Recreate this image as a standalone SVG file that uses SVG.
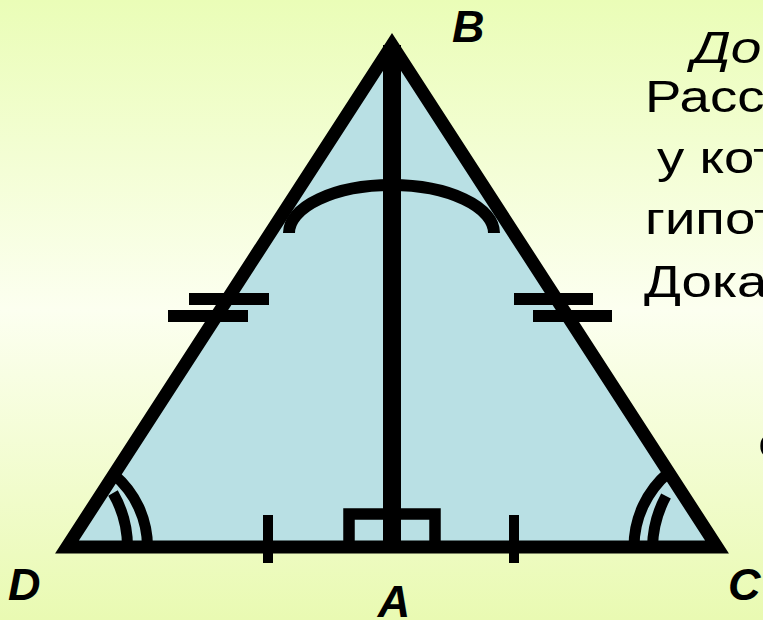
<svg xmlns="http://www.w3.org/2000/svg" width="763" height="620" viewBox="0 0 763 620">
<defs>
<linearGradient id="bg" x1="0" y1="0" x2="0" y2="1">
<stop offset="0" stop-color="#eafdb7"/>
<stop offset="0.5" stop-color="#fcfff0"/>
<stop offset="1" stop-color="#e9fab2"/>
</linearGradient>
<style>
.ln{fill:none;stroke:#000;stroke-linecap:butt}
.lbl{font-family:"Liberation Sans",Arial,sans-serif;font-weight:bold;font-style:italic;font-size:45px;fill:#000}
.txt{font-family:"Liberation Sans",Arial,sans-serif;font-size:44px;fill:#000}
</style>
</defs>
<rect width="763" height="620" fill="url(#bg)"/>
<g id="triangle">
<polygon points="392,45 67,547 717,547" fill="#b9e0e4" stroke="#000" stroke-width="13" stroke-linejoin="miter" stroke-miterlimit="10"/>
</g>
<g id="connectors">
<line id="median" class="ln" x1="392" y1="45" x2="392" y2="547" stroke-width="18"/>
<rect id="right-angle" x="349" y="514" width="86" height="33" class="ln" stroke-width="11.5"/>
<path id="apex-arc" class="ln" stroke-width="12" d="M289,233 A102.5,48 0 0 1 494,233"/>
<g id="side-ticks" stroke="#000" stroke-width="12">
<line x1="189" y1="299" x2="269" y2="299"/>
<line x1="168" y1="316" x2="248" y2="316"/>
<line x1="514" y1="299" x2="593" y2="299"/>
<line x1="533" y1="316" x2="612" y2="316"/>
</g>
<g id="base-ticks" stroke="#000" stroke-width="10">
<line x1="268" y1="515" x2="268" y2="563"/>
<line x1="514" y1="515" x2="514" y2="563"/>
</g>
<g id="angle-D" class="ln" stroke-width="11">
<path d="M147.5,547 A95,95 0 0 0 114,474.6"/>
<path d="M127.5,547 A107.8,107.8 0 0 0 113,493"/>
</g>
<g id="angle-C" class="ln" stroke-width="11">
<path d="M634,547 A97.5,97.5 0 0 1 668.6,472.5"/>
<path d="M652.5,547 A111.8,111.8 0 0 1 666,496"/>
</g>
</g>
<g id="labels">
<text class="lbl" x="452" y="42">B</text>
<text class="lbl" x="8" y="600">D</text>
<text class="lbl" x="394" y="617" text-anchor="middle">A</text>
<text class="lbl" x="728" y="600">C</text>
</g>
<g id="text">
<text class="txt" transform="translate(692,63) scale(1.25,1)" font-style="italic" font-size="58">До</text>
<text class="txt" transform="translate(645,112) scale(1.24,1)">Расс</text>
<text class="txt" transform="translate(657,173) scale(1.24,1)">у кот</text>
<text class="txt" transform="translate(645,234) scale(1.24,1)">гипот</text>
<text class="txt" transform="translate(644,297) scale(1.24,1)">Дока</text>
<text class="txt" transform="translate(758,458) scale(1.24,1)">с</text>
</g>
</svg>
